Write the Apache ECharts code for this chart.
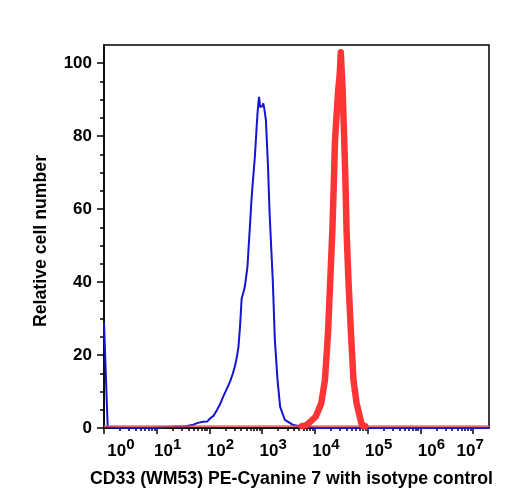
<!DOCTYPE html>
<html>
<head>
<meta charset="utf-8">
<script src="https://cdn.jsdelivr.net/npm/echarts@6/dist/echarts.min.js"></script>
<style>
    html, body { margin: 0; padding: 0; background: #fff; }
    #chart { width: 508px; height: 500px; }
</style>
</head>
<body>
<div id="chart"></div>
<script>
// MARK: - Data (x values are log10 of intensity)

const decades = [0, 1, 2, 3, 4, 5, 6, 7];
const yTicks = [0, 20, 40, 60, 80, 100];

const blueLogX = [0.0, 0.07, 0.3, 1.0, 1.1, 1.4, 1.55, 1.67, 1.78, 1.88, 1.96, 2.01, 2.08, 2.14, 2.2, 2.26,
    2.33, 2.39, 2.44, 2.48, 2.52, 2.55, 2.58, 2.61, 2.64, 2.67, 2.72, 2.77, 2.8, 2.86, 2.91, 2.93, 2.94,
    2.96, 2.98, 3.0, 3.02, 3.04, 3.07, 3.11, 3.14, 3.2, 3.24, 3.29, 3.34, 3.43, 3.59, 3.77, 3.9, 4.0, 7.3];
const blueY = [29, 0.3, 0.1, 0.1, 0.2, 0.4, 0.5, 0.8, 1.4, 1.7, 1.8, 2.6, 3.4, 4.9, 6.5, 8.6,
    10.8, 12.7, 14.8, 16.8, 19.5, 22.3, 28, 35.5, 37, 38.7, 44.2, 56.1, 63.4, 74.3, 86.2, 89.5, 90.8,
    88.0, 88.5, 88.2, 89, 87.5, 84.4, 71.6, 58.8, 40.5, 24.1, 13.2, 5.8, 2.2, 0.8, 0.36, 0.2, 0, 0];

const redBaseLogX = [0.0, 3.8, 4.95, 7.3];
const redBaseY = [0.5, 0.5, 0.5, 0.5];

const redPeakLogX = [3.75, 3.84, 4.015, 4.12, 4.19, 4.25, 4.29, 4.33, 4.36, 4.38, 4.44, 4.47, 4.49,
    4.51, 4.525, 4.555, 4.58, 4.6, 4.635, 4.68, 4.73, 4.79, 4.85, 4.89, 4.95];
const redPeakY = [0.5, 0.8, 3.1, 6.8, 13.2, 26.8, 40.5, 54.2, 68, 78.9, 92.6, 97, 103,
    97, 92.6, 78.9, 66.6, 53.7, 40.5, 26.8, 13.2, 6.8, 3.1, 0.8, 0.5];

// MARK: - Helpers

function zip(xs, ys) {
    return xs.map((x, i) => [x, ys[i]]);
}

let minorX = [];
decades.forEach(d => {
    for (let k = 2; k <= 9; k++) {
        let v = d + Math.log10(k);
        if (v <= 7.29) minorX.push(v);
    }
});

let minorY = [];
for (let v = 5; v < 100; v += 5) {
    if (v % 20 !== 0) minorY.push(v);
}

const font = "'Liberation Sans', Arial, Helvetica, sans-serif";
const black = '#000';

function labelStyle(size, padding) {
    return {
        fontSize: size,
        fontWeight: 'bold',
        fontFamily: font,
        color: black,
        verticalAlign: 'bottom',
        padding: padding
    };
}

// MARK: - Chart

let chart = echarts.init(document.getElementById('chart'));

let option = {
    animation: false,
    backgroundColor: '#fff',
    grid: {
        left: 104,
        right: 19,
        top: 45,
        bottom: 72,
        show: true,
        borderColor: black,
        borderWidth: 1.5
    },
    xAxis: [
        {
            type: 'value',
            position: 'bottom',
            min: 0,
            max: 7.3,
            name: 'CD33 (WM53) PE-Cyanine 7 with isotype control',
            nameLocation: 'middle',
            nameGap: 42,
            nameTextStyle: {
                color: black,
                fontFamily: font,
                fontWeight: 'bold',
                fontSize: 17.7,
                padding: [0, 10, 0, 0]
            },
            splitLine: {show: false},
            axisLine: {lineStyle: {color: black, width: 1.5}},
            axisTick: {
                customValues: decades,
                length: 6,
                lineStyle: {color: black, width: 1.5}
            },
            axisLabel: {
                customValues: decades,
                margin: 9,
                formatter: function (v) {
                    let e = Math.round(v);
                    if (e === 0) return '{p0|10}{s|0}';
                    if (e === 7) return '{p7|10}{s7|7}';
                    return '{p|10}{s|' + e + '}';
                },
                rich: {
                    p0: labelStyle(17, [0, 0, 0, 34]),
                    p: labelStyle(17, [0, 0, 0, 22]),
                    p7: labelStyle(17, [0, 0, 0, 0]),
                    s: labelStyle(15, [0, 0, 8, 0]),
                    s7: labelStyle(15, [0, 6, 8, 0])
                }
            }
        },
        {
            type: 'value',
            position: 'bottom',
            min: 0,
            max: 7.3,
            splitLine: {show: false},
            axisLine: {show: false},
            axisTick: {
                customValues: minorX,
                length: 3,
                lineStyle: {color: black, width: 1.5}
            },
            axisLabel: {show: false}
        }
    ],
    yAxis: [
        {
            type: 'value',
            position: 'left',
            min: 0,
            max: 105,
            name: 'Relative cell number',
            nameLocation: 'middle',
            nameGap: 54,
            nameTextStyle: {
                color: black,
                fontFamily: font,
                fontWeight: 'bold',
                fontSize: 17.7,
                padding: [0, 9, 0, 0]
            },
            splitLine: {show: false},
            axisLine: {lineStyle: {color: black, width: 1.5}},
            axisTick: {
                customValues: yTicks,
                length: 7,
                lineStyle: {color: black, width: 1.5}
            },
            axisLabel: {
                customValues: yTicks,
                margin: 12,
                color: black,
                fontFamily: font,
                fontWeight: 'bold',
                fontSize: 17
            }
        },
        {
            type: 'value',
            position: 'left',
            min: 0,
            max: 105,
            splitLine: {show: false},
            axisLine: {show: false},
            axisTick: {
                customValues: minorY,
                length: 4,
                lineStyle: {color: black, width: 1.5}
            },
            axisLabel: {show: false}
        }
    ],
    series: [
        {
            name: 'CD33',
            type: 'line',
            showSymbol: false,
            data: zip(blueLogX, blueY),
            lineStyle: {color: '#1414d2', width: 2},
            z: 2
        },
        {
            name: 'isotype base',
            type: 'line',
            showSymbol: false,
            data: zip(redBaseLogX, redBaseY),
            lineStyle: {color: '#f04848', width: 2, opacity: 0.8},
            z: 3
        },
        {
            name: 'isotype',
            type: 'line',
            showSymbol: false,
            data: zip(redPeakLogX, redPeakY),
            lineStyle: {color: '#ff3535', width: 6.5, join: 'round', cap: 'round'},
            z: 4
        }
    ]
};

chart.setOption(option);
</script>
</body>
</html>
